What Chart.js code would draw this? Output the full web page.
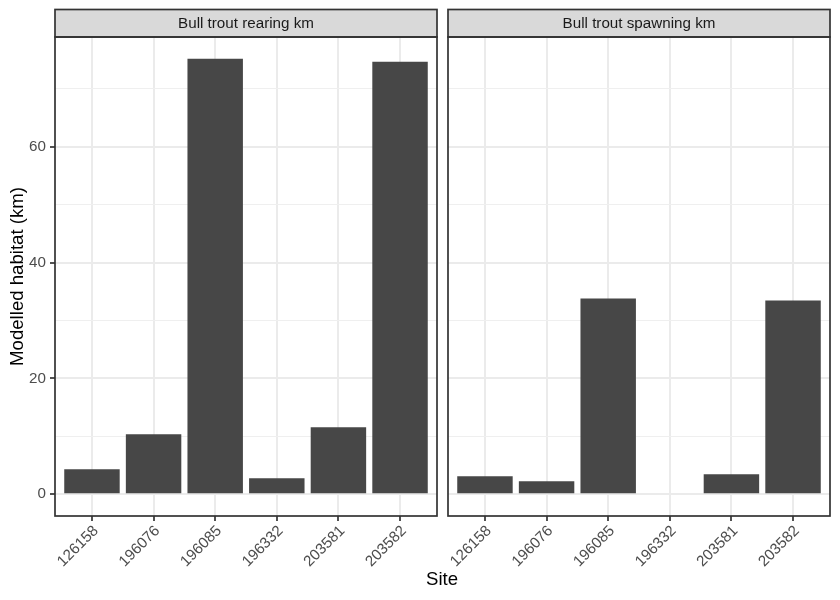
<!DOCTYPE html>
<html><head><meta charset="utf-8">
<script src="https://cdn.jsdelivr.net/npm/chart.js@4/dist/chart.umd.min.js"></script>
<style>
html,body{margin:0;padding:0;background:#fff}
#wrap{position:relative;width:840px;height:600px;background:#fff}
canvas{position:absolute;left:0;top:0}
</style>
</head><body>
<div id="wrap"><canvas id="c1" width="840" height="600"></canvas><canvas id="c2" width="840" height="600"></canvas></div>
<script>
// ---- data ----
const sites = ['126158', '196076', '196085', '196332', '203581', '203582'];
const rearingKm = [4.3, 10.35, 75.2, 2.75, 11.55, 74.7];
const spawningKm = [3.1, 2.25, 33.8, 0, 3.45, 33.45];
const panelTitles = ['Bull trout rearing km', 'Bull trout spawning km'];
const yTickValues = [0, 10, 20, 30, 40, 50, 60, 70];
const yLabelValues = [0, 20, 40, 60];
const xTitle = 'Site';
const yTitle = 'Modelled habitat (km)';

// shared y range with ggplot-like 5% expansion
const allVals = rearingKm.concat(spawningKm);
const dMax = Math.max(...allVals), dMin = Math.min(0, ...allVals);
const span = dMax - dMin;
const yMin = dMin - span * 0.05, yMax = dMax + span * 0.05;

const FONT = "'Liberation Sans', Arial, Helvetica, sans-serif";
Chart.defaults.font.family = FONT;
const SMALL = 15.2, LARGE = 18.6;

const decor = {
  id: 'panelDecor',
  afterDraw(chart, args, opts) {
    const ctx = chart.ctx, a = chart.chartArea;
    ctx.save();
    // strip
    const stripTop = 9.5;
    ctx.fillStyle = '#D9D9D9';
    ctx.fillRect(a.left, stripTop, a.right - a.left, a.top - stripTop);
    ctx.strokeStyle = '#333333';
    ctx.lineWidth = 1.7;
    ctx.strokeRect(a.left, stripTop, a.right - a.left, a.top - stripTop);
    ctx.fillStyle = '#1A1A1A';
    ctx.font = SMALL + 'px ' + FONT;
    ctx.textAlign = 'center';
    ctx.textBaseline = 'middle';
    ctx.fillText(opts.title, (a.left + a.right) / 2, (stripTop + a.top) / 2 + 0.5);
    // panel border
    ctx.strokeStyle = '#333333';
    ctx.lineWidth = 1.7;
    ctx.strokeRect(a.left, a.top, a.right - a.left, a.bottom - a.top);
    if (opts.titles) {
      ctx.fillStyle = '#000000';
      ctx.font = LARGE + 'px ' + FONT;
      ctx.textAlign = 'center';
      ctx.textBaseline = 'middle';
      ctx.fillText(xTitle, 442, 580);
      ctx.translate(18, (a.top + a.bottom) / 2);
      ctx.rotate(-Math.PI / 2);
      ctx.fillText(yTitle, 0, 0);
    }
    ctx.restore();
  }
};

const isMajor = c => c.tick && yLabelValues.includes(c.tick.value);

function makeChart(id, values, title, pad, showY, titles) {
  return new Chart(document.getElementById(id), {
    type: 'bar',
    data: {
      datasets: [{
        data: values.map((v, i) => ({ x: i, y: v })),
        backgroundColor: '#474747',
        borderWidth: 0,
        barPercentage: 0.9,
        categoryPercentage: 1.0
      }]
    },
    options: {
      responsive: false,
      animation: false,
      devicePixelRatio: 1,
      layout: { padding: pad },
      plugins: {
        legend: { display: false },
        tooltip: { enabled: false },
        panelDecor: { title: title, titles: titles }
      },
      scales: {
        x: {
          type: 'linear',
          min: -0.6, max: 5.6,
          offset: false,
          afterBuildTicks: s => { s.ticks = sites.map((_, i) => ({ value: i })); },
          afterFit: s => { s.height = 84; },
          ticks: {
            autoSkip: false, minRotation: 45, maxRotation: 45,
            color: '#4D4D4D', font: { size: SMALL }, padding: 1, labelOffset: 4,
            callback: v => sites[v]
          },
          grid: { offset: false, color: '#EBEBEB', lineWidth: 2, tickColor: '#333333', tickWidth: 1.7, tickLength: 5, drawTicks: true },
          border: { display: false }
        },
        y: {
          min: yMin, max: yMax,
          afterBuildTicks: s => { s.ticks = yTickValues.map(v => ({ value: v })); },
          afterFit: s => { s.width = showY ? 55 : 0; },
          ticks: {
            display: showY, color: '#4D4D4D', font: { size: SMALL }, padding: 4,
            callback: v => yLabelValues.includes(v) ? String(v) : ''
          },
          grid: {
            color: c => isMajor(c) ? '#EBEBEB' : '#EFEFEF',
            lineWidth: c => isMajor(c) ? 2 : 1,
            tickColor: c => isMajor(c) ? '#333333' : 'rgba(0,0,0,0)',
            tickWidth: 1.7,
            drawTicks: showY, tickLength: 5
          },
          border: { display: false }
        }
      }
    },
    plugins: [decor]
  });
}

makeChart('c1', rearingKm, panelTitles[0], { left: 0, right: 403, top: 37, bottom: 0 }, true, true);
makeChart('c2', spawningKm, panelTitles[1], { left: 448, right: 10, top: 37, bottom: 0 }, false, false);
</script>
</body></html>
